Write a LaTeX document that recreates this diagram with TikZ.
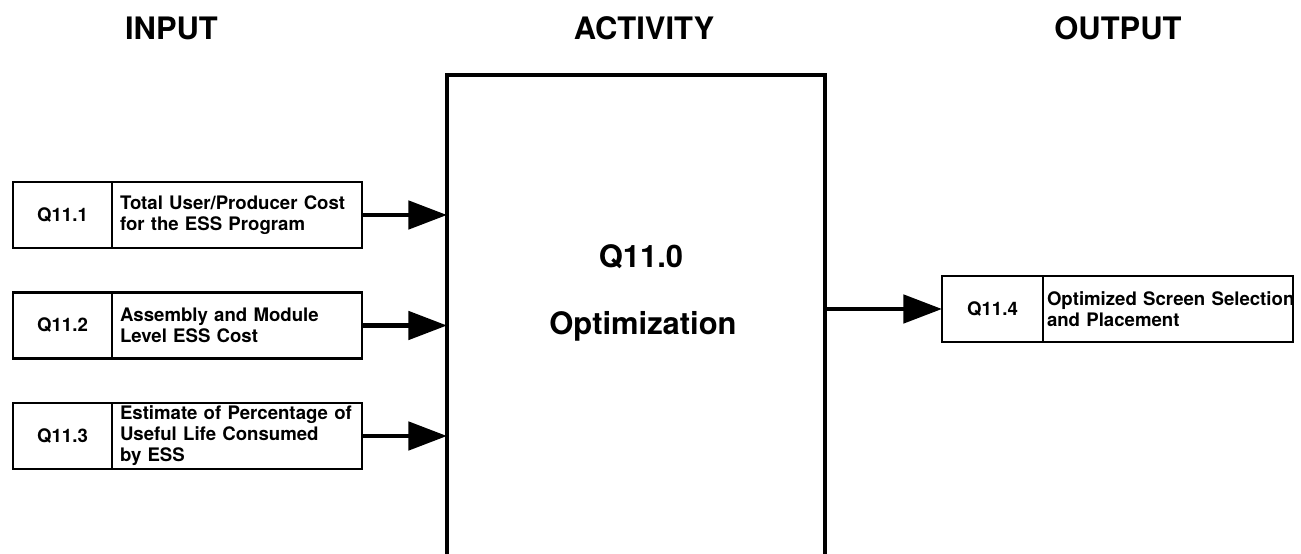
\documentclass[tikz,border=0pt]{standalone}
\usepackage{fontspec}
\setmainfont{TeX Gyre Heros}
\usetikzlibrary{
  arrows.meta,
  positioning
}

\begin{document}
\begin{tikzpicture}[
  >={Triangle[length=11pt,width=8pt]},
  heading/.style={anchor=base,font=\fontsize{8.8}{10}\selectfont\bfseries},
  idbox/.style={draw,line width=0.6pt,outer sep=0pt,inner sep=0pt,
    minimum width=0.99cm,minimum height=0.66cm,
    font=\fontsize{5.3}{6}\selectfont\bfseries},
  txtbox/.style={draw,line width=0.6pt,outer sep=0pt,inner xsep=0.08cm,inner ysep=0pt,
    minimum height=0.66cm,text width=2.34cm,align=left,
    font=\fontsize{5.3}{6}\selectfont\bfseries},
  flow/.style={->,line width=1.3pt}
]
\useasboundingbox (0,0) rectangle (13.01,5.54);

%--------------------
% Headings
%--------------------
\node[heading] (hIn)  at (1.715,5.14) {INPUT};
\node[heading] (hAct) at (6.44,5.14)  {ACTIVITY};
\node[heading] (hOut) at (11.18,5.14) {OUTPUT};

%--------------------
% Activity
%--------------------
\node[minimum width=3.78cm,minimum height=4.79cm,inner sep=0pt,outer sep=0pt,
  anchor=north west] (act) at (4.47,4.79) {};
\draw[line width=1pt]
  (act.south west) -- (act.north west) -- (act.north east) -- (act.south east);

\node[heading] (actId)   at (6.41,2.86) {Q11.0};
\node[heading] (actName) at (6.43,2.19) {Optimization};

%--------------------
% Inputs
%--------------------
\node[idbox] (in1) at (0.625,3.39) {Q11.1};
\node[txtbox,right=0pt of in1] (in1txt)
  {Total User/Producer Cost\\for the ESS Program};

\node[idbox] (in2) at (0.625,2.285) {Q11.2};
\node[txtbox,right=0pt of in2] (in2txt)
  {Assembly and Module\\Level ESS Cost};

\node[idbox] (in3) at (0.625,1.18) {Q11.3};
\node[txtbox,right=0pt of in3] (in3txt)
  {Estimate of Percentage of\\Useful Life Consumed\\by ESS};

% input arrows
\draw[flow] (in1txt.east) -- (in1txt.east -| act.west);
\draw[flow] (in2txt.east) -- (in2txt.east -| act.west);
\draw[flow] (in3txt.east) -- (in3txt.east -| act.west);

%--------------------
% Output
%--------------------
\begin{scope}
  \clip (9.3,2.0) rectangle (12.94,2.9);
  \node[idbox,minimum width=1.01cm] (out4) at (9.925,2.45) {Q11.4};
  \node[txtbox,text width=2.42cm,inner xsep=0.04cm,right=0pt of out4] (out4txt)
    {\leavevmode\rlap{Optimized Screen Selection}\\and Placement};
\end{scope}

% output arrow
\draw[flow] (act.east |- out4.west) -- (out4.west);

\end{tikzpicture}
\end{document}
